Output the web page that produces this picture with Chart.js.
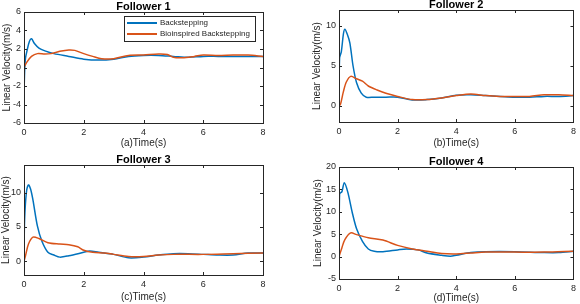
<!DOCTYPE html>
<html>
<head>
<meta charset="utf-8">
<script src="https://cdn.jsdelivr.net/npm/chart.js@4/dist/chart.umd.min.js"></script>
<style>
  body { margin: 0; background: #fff; }
  .wrap { position: relative; width: 580px; height: 304px; }
  canvas { position: absolute; }
</style>
</head>
<body>
<div class="wrap">
  <canvas id="f1" width="290" height="152" style="left:0;top:0"></canvas>
  <canvas id="f2" width="290" height="152" style="left:290px;top:0"></canvas>
  <canvas id="f3" width="290" height="152" style="left:0;top:152px"></canvas>
  <canvas id="f4" width="290" height="152" style="left:290px;top:152px"></canvas>
</div>
<script>
// series names
var seriesNames = ['Backstepping', 'Bioinspired Backstepping'];
var xTicks = [0, 2, 4, 6, 8];

// Follower 1
var f1BackT = [0, 0.02, 0.05, 0.1, 0.18, 0.25, 0.35, 0.5, 0.7, 1.0, 1.5, 2.0, 2.5, 3.0, 3.5, 4.0, 4.5, 5.0, 5.5, 6.0, 6.5, 7.0, 7.5, 8];
var f1BackV = [-3, -0.5, 1.0, 1.8, 2.8, 3.1, 2.6, 2.1, 1.8, 1.5, 1.2, 0.9, 0.8, 0.9, 1.2, 1.3, 1.3, 1.2, 1.1, 1.2, 1.2, 1.2, 1.2, 1.2];
var f1BioT = [0, 0.1, 0.25, 0.45, 0.7, 0.9, 1.2, 1.5, 1.7, 2.0, 2.3, 2.6, 3.0, 3.5, 4.0, 4.5, 4.8, 5.0, 5.3, 5.7, 6.0, 6.5, 7.0, 7.5, 8];
var f1BioV = [0, 0.6, 1.2, 1.5, 1.45, 1.5, 1.75, 1.9, 1.85, 1.5, 1.2, 0.95, 0.95, 1.3, 1.35, 1.45, 1.4, 1.1, 1.05, 1.2, 1.35, 1.3, 1.35, 1.35, 1.2];
var f1YTicks = [-6, -4, -2, 0, 2, 4, 6];

// Follower 2
var f2BackT = [0, 0.02, 0.08, 0.15, 0.2, 0.28, 0.37, 0.48, 0.6, 0.76, 0.93, 1.2, 1.6, 2.0, 2.5, 3.0, 3.5, 4.0, 4.5, 5.0, 5.5, 6.0, 6.5, 7.0, 7.5, 8];
var f2BackV = [0, 6.0, 6.8, 9.0, 9.6, 9.0, 7.9, 5.0, 2.9, 1.6, 1.1, 1.1, 1.1, 1.1, 0.75, 0.8, 1.0, 1.35, 1.4, 1.3, 1.2, 1.1, 1.1, 1.2, 1.2, 1.3];
var f2BioT = [0, 0.05, 0.15, 0.25, 0.4, 0.6, 0.8, 1.0, 1.3, 1.6, 2.0, 2.5, 3.0, 3.5, 4.0, 4.5, 5.0, 5.5, 6.0, 6.5, 7.0, 7.5, 8];
var f2BioV = [0, 0.2, 1.8, 3.0, 3.7, 3.4, 3.1, 2.5, 2.0, 1.6, 1.2, 0.8, 0.8, 1.0, 1.3, 1.5, 1.3, 1.2, 1.2, 1.2, 1.4, 1.4, 1.3];
var f2YTicks = [0, 5, 10];

// Follower 3
var f3BackT = [0, 0.02, 0.08, 0.15, 0.22, 0.3, 0.45, 0.6, 0.8, 1.0, 1.2, 1.5, 2.0, 2.2, 2.5, 3.0, 3.5, 4.0, 4.5, 5.0, 5.5, 6.0, 6.5, 7.0, 7.5, 8];
var f3BackV = [1, 6, 10, 11.1, 10.5, 8.9, 5.1, 2.9, 1.3, 0.9, 0.6, 0.8, 1.3, 1.5, 1.3, 1.0, 0.5, 0.6, 0.9, 1.1, 1.1, 1.0, 0.9, 0.9, 1.2, 1.2];
var f3BioT = [0, 0.05, 0.15, 0.3, 0.5, 0.8, 1.2, 1.5, 1.8, 2.0, 2.3, 2.7, 3.0, 3.5, 4.0, 4.5, 5.0, 6.0, 7.0, 8];
var f3BioV = [0, 0.8, 2.5, 3.5, 3.3, 2.7, 2.5, 2.4, 2.1, 1.6, 1.3, 1.2, 1.0, 0.7, 0.7, 0.9, 1.0, 1.0, 1.1, 1.2];
var f3YTicks = [0, 5, 10];

// Follower 4
var f4BackT = [0, 0.02, 0.1, 0.18, 0.3, 0.45, 0.6, 0.8, 1.0, 1.2, 1.5, 2.0, 2.3, 2.7, 3.0, 3.5, 3.8, 4.0, 4.5, 5.0, 6.0, 7.0, 7.5, 8];
var f4BackV = [0, 14, 14.5, 16.5, 14.4, 9.9, 6.2, 3.4, 1.7, 1.2, 1.1, 1.5, 1.7, 1.5, 0.8, 0.3, 0.1, 0.3, 0.9, 1.1, 1.1, 0.9, 0.9, 1.2];
var f4BioT = [0, 0.1, 0.2, 0.4, 0.6, 1.0, 1.5, 2.0, 2.5, 3.0, 3.5, 4.0, 4.5, 5.0, 6.0, 7.0, 8];
var f4BioV = [0, 2.0, 3.8, 5.3, 4.9, 4.2, 3.7, 2.5, 1.7, 1.2, 0.7, 0.6, 0.8, 1.0, 1.0, 1.0, 1.2];
var f4YTicks = [-5, 0, 5, 10, 15, 20];

var BLUE = '#0072BD';
var ORANGE = '#D95319';
var FONT = '"Liberation Sans", Arial, sans-serif';

function pts(t, v) {
    return t.map(function (x, i) { return { x: x, y: v[i] }; });
}

// title, box, inside ticks, legend
var decorPlugin = {
    id: 'decor',
    afterDraw: function (chart) {
        var o = chart.options.plugins.decor;
        var ctx = chart.ctx, a = chart.chartArea;
        var xs = chart.scales.x, ys = chart.scales.y;
        ctx.save();
        ctx.strokeStyle = '#262626';
        ctx.lineWidth = 1;
        ctx.strokeRect(Math.round(a.left) + 0.5, Math.round(a.top) + 0.5, Math.round(a.right - a.left), Math.round(a.bottom - a.top));
        ctx.beginPath();
        xs.ticks.forEach(function (t) {
            var px = Math.round(xs.getPixelForValue(t.value)) + 0.5;
            ctx.moveTo(px, a.bottom); ctx.lineTo(px, a.bottom - 3);
            ctx.moveTo(px, a.top); ctx.lineTo(px, a.top + 3);
        });
        ys.ticks.forEach(function (t) {
            var py = Math.round(ys.getPixelForValue(t.value)) + 0.5;
            ctx.moveTo(a.left, py); ctx.lineTo(a.left + 3, py);
            ctx.moveTo(a.right, py); ctx.lineTo(a.right - 3, py);
        });
        ctx.stroke();

        ctx.fillStyle = '#000';
        ctx.font = 'bold 11px ' + FONT;
        ctx.textAlign = 'center';
        ctx.textBaseline = 'alphabetic';
        ctx.fillText(o.title, (a.left + a.right) / 2, a.top - 2);

        if (o.legend) {
            var lx = 124, ly = 16, lw = 131, lh = 25;
            ctx.fillStyle = '#fff';
            ctx.fillRect(lx, ly, lw, lh);
            ctx.strokeStyle = '#262626';
            ctx.strokeRect(lx + 0.5, ly + 0.5, lw, lh);
            ctx.font = '8px ' + FONT;
            ctx.textAlign = 'left';
            ctx.textBaseline = 'middle';
            chart.data.datasets.forEach(function (ds, i) {
                var yy = ly + 7 + i * 11;
                ctx.strokeStyle = ds.borderColor;
                ctx.lineWidth = 2;
                ctx.beginPath();
                ctx.moveTo(lx + 3, yy); ctx.lineTo(lx + 33, yy);
                ctx.stroke();
                ctx.fillStyle = '#262626';
                ctx.fillText(ds.label, lx + 36, yy);
            });
        }
        ctx.restore();
    }
};

function makeChart(id, cfg) {
    var left = cfg.area[0], top = cfg.area[1], right = cfg.area[2], bottom = cfg.area[3];
    return new Chart(document.getElementById(id), {
        type: 'line',
        data: {
            datasets: [{
                label: seriesNames[0],
                data: pts(cfg.backT, cfg.backV),
                borderColor: BLUE,
                borderWidth: 1.5,
                pointRadius: 0,
                tension: 0.3,
                order: 1
            }, {
                label: seriesNames[1],
                data: pts(cfg.bioT, cfg.bioV),
                borderColor: ORANGE,
                borderWidth: 1.5,
                pointRadius: 0,
                tension: 0.3,
                order: 0
            }]
        },
        options: {
            responsive: false,
            animation: false,
            layout: { padding: { left: 0, top: top, right: 290 - right, bottom: 0 } },
            plugins: {
                legend: { display: false },
                tooltip: { enabled: false },
                decor: { title: cfg.title, legend: cfg.legend }
            },
            scales: {
                x: {
                    type: 'linear',
                    min: 0, max: 8,
                    afterBuildTicks: function (s) { s.ticks = xTicks.map(function (v) { return { value: v }; }); },
                    afterFit: function (s) { s.height = 152 - bottom; },
                    grid: { display: false, drawTicks: false },
                    border: { display: false },
                    ticks: { color: '#262626', font: { family: FONT, size: 9 }, padding: 4 },
                    title: { display: true, text: cfg.xTitle, color: '#262626', font: { family: FONT, size: 10 }, padding: { top: 0, bottom: cfg.xTitlePad } }
                },
                y: {
                    min: cfg.yMin, max: cfg.yMax,
                    afterBuildTicks: function (s) { s.ticks = cfg.yTicks.map(function (v) { return { value: v }; }); },
                    afterFit: function (s) { s.width = left; },
                    grid: { display: false, drawTicks: false },
                    border: { display: false },
                    ticks: { color: '#262626', font: { family: FONT, size: 9 }, padding: 3 },
                    title: { display: true, text: 'Linear Velocity(m/s)', color: '#262626', font: { family: FONT, size: 10 }, padding: { top: cfg.yTitlePad, bottom: 0 } }
                }
            }
        },
        plugins: [decorPlugin]
    });
}

makeChart('f1', { title: 'Follower 1', xTitle: '(a)Time(s)', legend: true, area: [24, 12, 263, 123], yTitlePad: 1, xTitlePad: 3,
    backT: f1BackT, backV: f1BackV, bioT: f1BioT, bioV: f1BioV, yMin: -6, yMax: 6, yTicks: f1YTicks });
makeChart('f2', { title: 'Follower 2', xTitle: '(b)Time(s)', legend: false, area: [49, 10, 287, 122], yTitlePad: 21, xTitlePad: 3,
    backT: f2BackT, backV: f2BackV, bioT: f2BioT, bioV: f2BioV, yMin: -2, yMax: 12, yTicks: f2YTicks });
makeChart('f3', { title: 'Follower 3', xTitle: '(c)Time(s)', legend: false, area: [24, 13, 263, 123], yTitlePad: 0, xTitlePad: 1,
    backT: f3BackT, backV: f3BackV, bioT: f3BioT, bioV: f3BioV, yMin: -2, yMax: 14, yTicks: f3YTicks });
makeChart('f4', { title: 'Follower 4', xTitle: '(d)Time(s)', legend: false, area: [49, 15, 287, 127], yTitlePad: 22, xTitlePad: 0,
    backT: f4BackT, backV: f4BackV, bioT: f4BioT, bioV: f4BioV, yMin: -5, yMax: 20, yTicks: f4YTicks });
</script>
</body>
</html>
